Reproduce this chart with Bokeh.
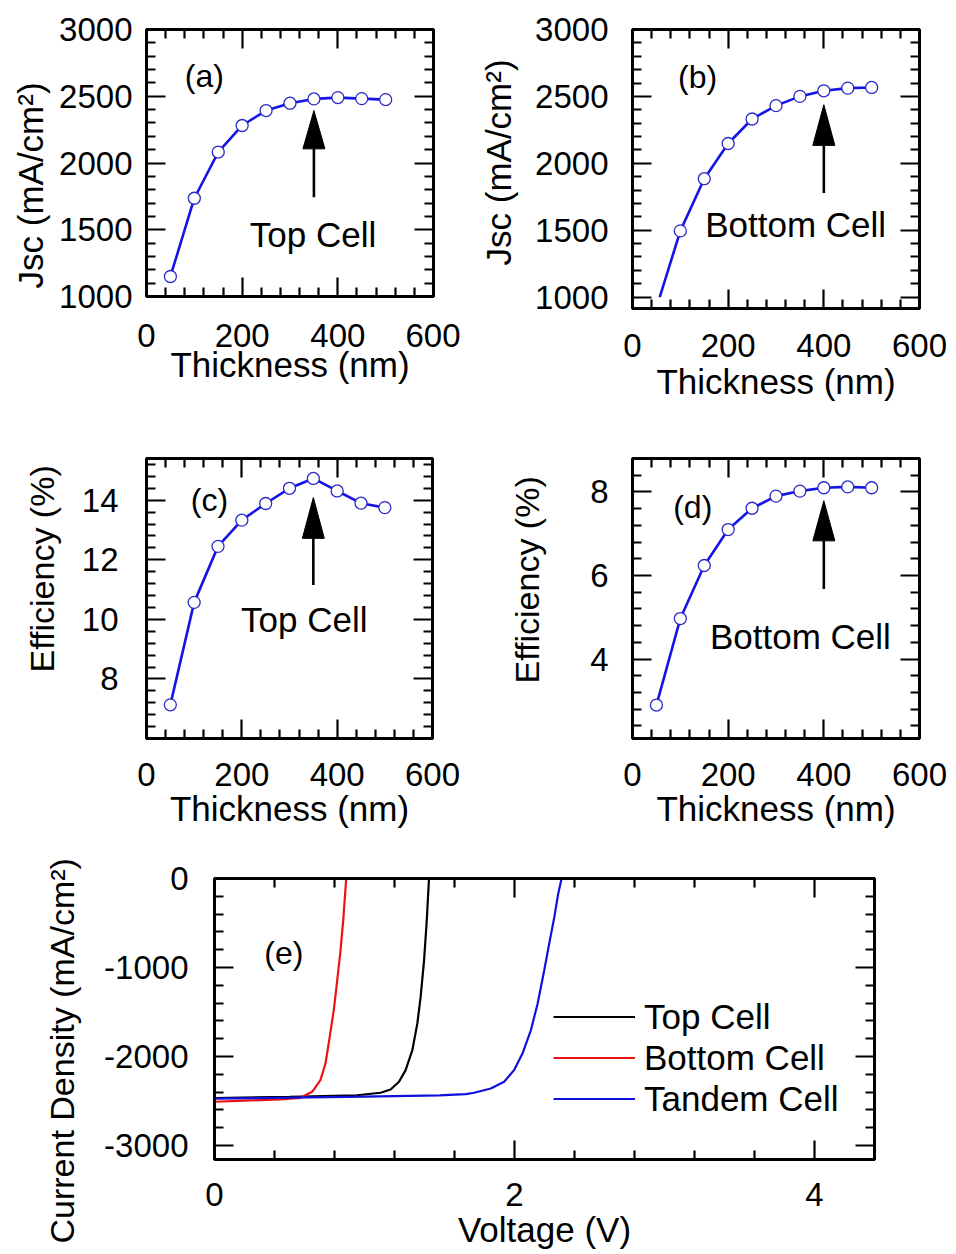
import numpy as np
from bokeh.plotting import figure
from bokeh.models import LinearAxis, FixedTicker, Range1d, Legend, Title, PrintfTickFormatter
from bokeh.layouts import column, row
from bokeh.embed import file_html
from bokeh.resources import INLINE
from bokeh.core.properties import value

FONT = "Liberation Sans"

# ---- thickness sweep (panels a-d) ----
thickness_nm = [50, 100, 150, 200, 250, 300, 350, 400, 450, 500]
jsc_top = [1150, 1736, 2082, 2281, 2393, 2448, 2480, 2490, 2482, 2475]
jsc_bottom = [920, 1495, 1885, 2148, 2331, 2431, 2500, 2542, 2562, 2567]
eff_top = [7.13, 10.57, 12.45, 13.33, 13.89, 14.40, 14.73, 14.31, 13.90, 13.75]
eff_bottom = [2.90, 4.97, 6.24, 7.10, 7.61, 7.90, 8.02, 8.10, 8.12, 8.10]

# ---- J-V characteristics (panel e) ----
v_top = [0.0, 0.5, 0.95, 1.107, 1.174, 1.230, 1.274, 1.319, 1.352, 1.374, 1.397, 1.415, 1.430]
j_top = [-2466, -2452, -2435, -2407, -2370, -2284, -2153, -1929, -1631, -1333, -922, -474, 0]
v_bottom = [0.0, 0.2, 0.439, 0.573, 0.651, 0.706, 0.740, 0.768, 0.795, 0.818, 0.840, 0.858, 0.878]
j_bottom = [-2508, -2496, -2482, -2464, -2396, -2265, -2079, -1780, -1482, -1146, -810, -474, 0]
v_tandem = [0.0, 0.5, 1.0, 1.5, 1.675, 1.731, 1.842, 1.931, 1.997, 2.053, 2.109, 2.154, 2.198,
            2.231, 2.265, 2.291, 2.314]
j_tandem = [-2472, -2462, -2450, -2437, -2422, -2407, -2359, -2284, -2153, -1967, -1706, -1407,
            -1034, -735, -437, -175, 0]

# tick positions
thick_major = [0, 200, 400, 600]
thick_minor = [t for t in range(0, 601, 40) if t % 200]
jsc_major = [1000, 1500, 2000, 2500, 3000]
jsc_minor = [j for j in range(1000, 3001, 100) if j % 500]
efft_major = [8, 10, 12, 14]
efft_minor = [round(v, 1) for v in np.arange(6.0, 15.41, 0.4) if round(v, 1) not in (8, 10, 12, 14)]
effb_major = [4, 6, 8]
effb_minor = [round(v, 1) for v in np.arange(2.0, 8.81, 0.4) if round(v, 1) not in (4, 6, 8)]
volt_major = [0, 2, 4]
volt_minor = [0.4, 0.8, 1.2, 1.6, 2.4, 2.8, 3.2, 3.6, 4.4]
jv_major = [-3000, -2000, -1000, 0]
jv_minor = [j for j in range(-3000, 1, 200) if j % 1000]

LINE_BLUE = "#1414e6"
MARK_BLUE = "#2a2ac8"
TICK_PX = 33
TITLE_PX = 35


def style_axis(ax, major, minor, standoff=10, title=None, title_standoff=0, show_labels=True):
    ax.ticker = FixedTicker(ticks=major, minor_ticks=minor)
    ax.major_tick_in = 19
    ax.major_tick_out = 0
    ax.minor_tick_in = 9
    ax.minor_tick_out = 0
    ax.major_tick_line_width = 2.2
    ax.minor_tick_line_width = 2.2
    ax.major_tick_line_color = "black"
    ax.minor_tick_line_color = "black"
    ax.axis_line_width = 3
    ax.axis_line_color = "black"
    ax.major_label_text_font = FONT
    if show_labels:
        ax.major_label_text_color = "black"
        ax.major_label_text_font_size = f"{TICK_PX}px"
        ax.major_label_standoff = standoff
    else:
        ax.major_label_text_color = None
        ax.major_label_text_font_size = "1px"
        ax.major_label_standoff = 0
    if title:
        ax.axis_label = title
        ax.axis_label_text_font = FONT
        ax.axis_label_text_font_size = f"{TITLE_PX}px"
        ax.axis_label_text_font_style = "normal"
        ax.axis_label_text_color = "black"
        ax.axis_label_standoff = title_standoff


def panel(width, height, borders, xr, yr, xt, yt, xlabel, x_std, x_title_std, y_std):
    left, right, top, bottom = borders
    p = figure(width=width, height=height, x_range=Range1d(*xr), y_range=Range1d(*yr),
               output_backend="svg", toolbar_location=None,
               min_border_left=left, min_border_right=right,
               min_border_top=top, min_border_bottom=bottom)
    p.xgrid.visible = False
    p.ygrid.visible = False
    p.outline_line_color = "black"
    p.outline_line_width = 3
    p.background_fill_color = "white"
    p.border_fill_color = "white"
    style_axis(p.xaxis[0], xt[0], xt[1], standoff=x_std, title=xlabel, title_standoff=x_title_std)
    style_axis(p.yaxis[0], yt[0], yt[1], standoff=y_std)
    # mirrored tick marks on the top and right edges
    top_ax = LinearAxis()
    style_axis(top_ax, xt[0], xt[1], show_labels=False)
    p.add_layout(top_ax, "above")
    right_ax = LinearAxis()
    style_axis(right_ax, yt[0], yt[1], show_labels=False)
    p.add_layout(right_ax, "right")
    return p


def y_title(p, txt, size, offset, standoff):
    # vertical axis title, reading bottom to top; 'offset' sets where the text
    # starts relative to the bottom of the frame
    p.add_layout(Title(text=txt, align="left", offset=offset, standoff=standoff,
                       text_font=FONT, text_font_size=f"{size}px",
                       text_font_style="normal", text_color="black"), "left")


def sweep_curve(p, x, y, line_x=None, line_y=None):
    p.line(line_x if line_x is not None else x, line_y if line_y is not None else y,
           line_color=LINE_BLUE, line_width=2.6)
    p.scatter(x, y, marker="circle", size=12, fill_color="white",
              line_color=MARK_BLUE, line_width=1.3)


def note(p, x, y, txt, size):
    p.text(x=[x], y=[y], text=[txt], text_font=value(FONT), text_font_size=f"{size}px",
           text_align="center", text_baseline="middle", text_color="black")


def optimum_arrow(p, x, tail, base, tip, half_w):
    p.segment(x0=[x], y0=[tail], x1=[x], y1=[base], line_color="black", line_width=2.6)
    p.patch(x=[x - half_w, x, x + half_w], y=[base, tip, base],
            fill_color="black", line_color="black", line_width=1)


JSC_TITLE = "Jsc (mA/cm\u00b2)"
EFF_TITLE = "Efficiency (%)"
THICK_TITLE = "Thickness (nm)"
HEAD_HALF_NM = 23

# (a) top cell short-circuit current
pa = panel(460, 410, (146, 27, 29, 114), (0, 600), (1000, 3000),
           (thick_major, thick_minor), (jsc_major, jsc_minor), THICK_TITLE,
           x_std=27, x_title_std=-5, y_std=14)
sweep_curve(pa, thickness_nm, jsc_top)
optimum_arrow(pa, 350, 1744, 2106, 2393, HEAD_HALF_NM)
note(pa, 121, 2655, "(a)", 32)
note(pa, 348, 1468, "Top Cell", 35)
y_title(pa, JSC_TITLE, 35, offset=8, standoff=14)

# (b) bottom cell short-circuit current; curve shown above the 1000 mA/cm2 axis floor
JSC_FLOOR = 1000.0
tb = np.array(thickness_nm, float)
jb = np.array(jsc_bottom, float)
keep = jb >= JSC_FLOOR
first = int(np.argmax(keep))
x_cross = float(np.interp(JSC_FLOOR, [jb[first - 1], jb[first]], [tb[first - 1], tb[first]]))
pb = panel(496, 422, (172, 37, 29, 114), (0, 600), (915, 3000),
           (thick_major, thick_minor), (jsc_major, jsc_minor), THICK_TITLE,
           x_std=25, x_title_std=2, y_std=24)
sweep_curve(pb, list(tb[keep]), list(jb[keep]),
            line_x=[x_cross] + list(tb[keep]), line_y=[JSC_FLOOR] + list(jb[keep]))
optimum_arrow(pb, 400, 1779, 2134, 2438, HEAD_HALF_NM)
note(pb, 136, 2642, "(b)", 32)
note(pb, 341, 1541, "Bottom Cell", 35)
y_title(pb, JSC_TITLE, 35, offset=43, standoff=30)

# (c) top cell efficiency
pc = panel(460, 418, (146, 28, 36, 102), (0, 600), (6.0, 15.4),
           (thick_major, thick_minor), (efft_major, efft_minor), THICK_TITLE,
           x_std=24, x_title_std=0, y_std=28)
sweep_curve(pc, thickness_nm, eff_top)
optimum_arrow(pc, 350, 11.15, 12.72, 14.09, HEAD_HALF_NM)
note(pc, 132, 14.0, "(c)", 32)
note(pc, 331, 10.0, "Top Cell", 35)
y_title(pc, EFF_TITLE, 34, offset=66, standoff=35)

# (d) bottom cell efficiency
pd_ = panel(496, 418, (172, 37, 36, 102), (0, 600), (2.1, 8.8),
            (thick_major, thick_minor), (effb_major, effb_minor), THICK_TITLE,
            x_std=24, x_title_std=0, y_std=24)
sweep_curve(pd_, thickness_nm, eff_bottom)
optimum_arrow(pd_, 400, 5.68, 6.83, 7.79, HEAD_HALF_NM)
note(pd_, 126, 7.65, "(d)", 32)
note(pd_, 351, 4.55, "Bottom Cell", 35)
y_title(pd_, EFF_TITLE, 34, offset=55, standoff=84)

# (e) J-V curves of the sub-cells and the tandem
pe = panel(956, 414, (214, 82, 38, 95), (0, 4.4), (-3157, 0),
           (volt_major, volt_minor), (jv_major, jv_minor), "Voltage (V)",
           x_std=23, x_title_std=1, y_std=26)
pe.yaxis[0].formatter = PrintfTickFormatter(format="%d")
r_top = pe.line(v_top, j_top, line_color="black", line_width=2.2)
r_bot = pe.line(v_bottom, j_bottom, line_color="#ee1111", line_width=2.2)
r_tan = pe.line(v_tandem, j_tandem, line_color="#1010dd", line_width=2.2)
note(pe, 0.462, -832, "(e)", 32)
y_title(pe, "Current Density (mA/cm\u00b2)", 34, offset=-84, standoff=42)
legend = Legend(items=[("Top Cell", [r_top]), ("Bottom Cell", [r_bot]), ("Tandem Cell", [r_tan])],
                location=(339, 40), label_text_font=FONT, label_text_font_size="35px",
                label_text_color="black", glyph_width=82, glyph_height=41, label_height=41,
                label_standoff=9, spacing=0, padding=0, margin=0,
                border_line_color=None, background_fill_alpha=0)
pe.add_layout(legend)

layout = column(row(pa, pb), row(pc, pd_), pe)

with open("out.html", "w") as f:
    f.write(file_html(layout, INLINE))
